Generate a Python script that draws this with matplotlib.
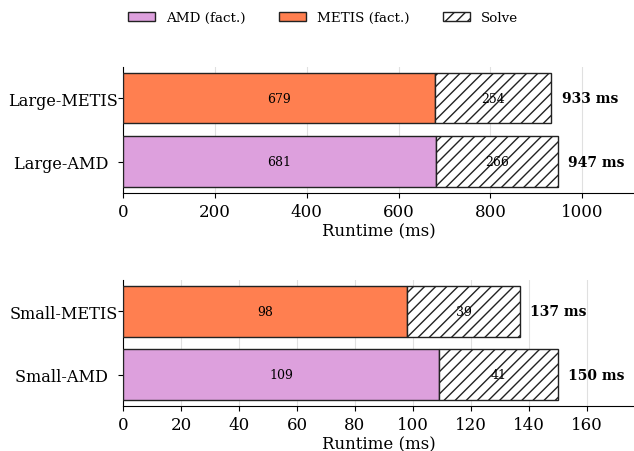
import numpy as np
import matplotlib.pyplot as plt
from matplotlib.patches import Patch

plt.rcParams['font.family'] = 'DejaVu Serif'

# data
large_labels = ['Large-AMD  ', 'Large-METIS']
large_fact = [681, 679]
large_solve = [266, 254]
small_labels = ['Small-AMD  ', 'Small-METIS']
small_fact = [109, 98]
small_solve = [41, 39]

amd_color = '#DDA0DD'
metis_color = '#FF7F50'
colors = [amd_color, metis_color]

fig = plt.figure(figsize=(6.34, 4.52), dpi=100)
ax1 = fig.add_axes([0.194, 0.571, 0.806, 0.279])
ax2 = fig.add_axes([0.194, 0.0996, 0.806, 0.279])


def draw(ax, labels, fact, solve):
    y = np.arange(len(labels))
    totals = np.array(fact) + np.array(solve)
    ax.barh(y, fact, height=0.8, color=colors, edgecolor='#222222', linewidth=1, zorder=3)
    ax.barh(y, solve, left=fact, height=0.8, color='white', edgecolor='#222222',
            hatch='///', linewidth=1, zorder=3)
    xmax = totals.max() * 1.175
    for i in range(len(labels)):
        ax.text(fact[i] / 2, y[i], str(fact[i]), ha='center', va='center', fontsize=9, zorder=4)
        ax.text(fact[i] + solve[i] / 2, y[i], str(solve[i]), ha='center', va='center',
                fontsize=9, zorder=4)
        ax.text(totals[i] + xmax * 0.02, y[i], f'{totals[i]} ms', ha='left', va='center',
                fontsize=10, fontweight='bold')
    ax.set_yticks(y)
    ax.set_yticklabels(labels, fontsize=11.6)
    ax.tick_params(axis='y', pad=0)
    ax.set_xlim(0, xmax)
    ax.tick_params(axis='x', labelsize=12)
    ax.set_xlabel('Runtime (ms)', fontsize=12, labelpad=2)
    ax.grid(axis='x', color='#e0e0e0', linewidth=0.8, zorder=0)
    ax.spines['top'].set_visible(False)
    ax.spines['right'].set_visible(False)


draw(ax1, large_labels, large_fact, large_solve)
draw(ax2, small_labels, small_fact, small_solve)

handles = [Patch(facecolor=amd_color, edgecolor='#222222', label='AMD (fact.)'),
           Patch(facecolor=metis_color, edgecolor='#222222', label='METIS (fact.)'),
           Patch(facecolor='white', edgecolor='#222222', hatch='///', label='Solve')]
fig.legend(handles=handles, loc='upper center', bbox_to_anchor=(0.51, 1.0), ncol=3,
           frameon=False, fontsize=9.7, columnspacing=2.5)

plt.savefig('out.png', dpi=100)
